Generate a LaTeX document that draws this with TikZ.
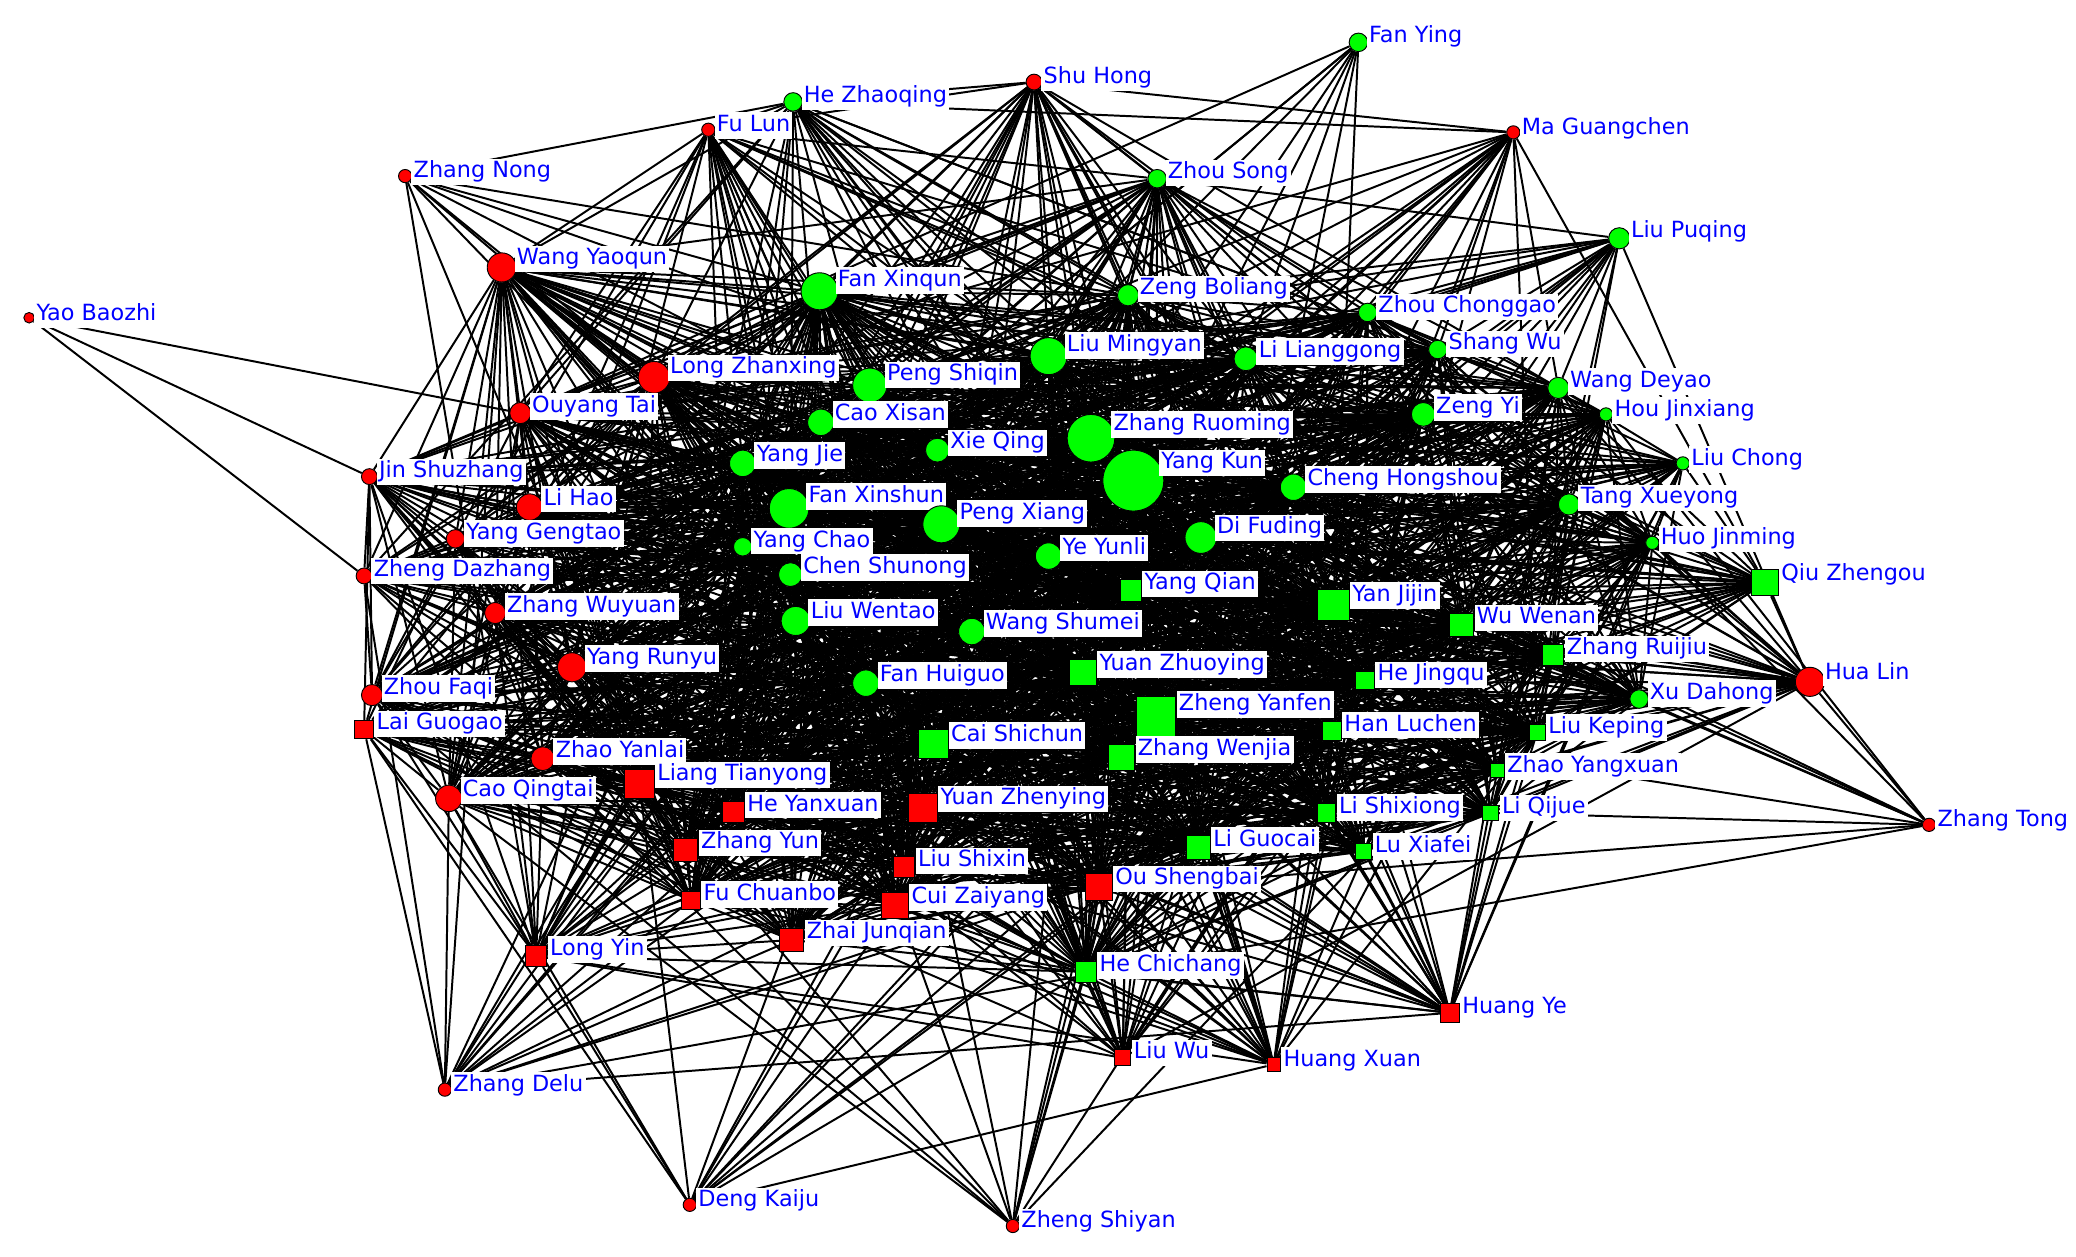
\documentclass[tikz,border=0pt]{standalone}
\usepackage{fontspec}
\newfontfamily\labelfont{DejaVu Sans}
\usetikzlibrary{backgrounds}

\begin{document}
\begin{tikzpicture}[x=0.02cm, y=-0.02cm,
  rc/.style={circle, draw, fill=red, inner sep=0pt, minimum size=#1*0.02cm},
  rs/.style={rectangle, draw, fill=red, inner sep=0pt, minimum size=#1*0.02cm},
  gc/.style={circle, draw, fill=green, inner sep=0pt, minimum size=#1*0.02cm},
  gs/.style={rectangle, draw, fill=green, inner sep=0pt, minimum size=#1*0.02cm},
  lbl/.style={anchor=west, fill=white, text=blue, inner sep=1pt, text height=7.2pt, text depth=2.2pt, font=\labelfont\fontsize{9.6}{11}\selectfont},
  edge/.style={line width=0.85pt}]
\useasboundingbox (0,0) rectangle (1568,949);
% red actors
\node[rc=8, label={[lbl]35:Yao Baozhi}] (N1) at (22,240) {};
\node[rc=10, label={[lbl]35:Zhang Nong}] (N2) at (306,133) {};
\node[rc=10, label={[lbl]35:Fu Lun}] (N3) at (535,98) {};
\node[rc=12, label={[lbl]35:Shu Hong}] (N4) at (781,62) {};
\node[rc=10, label={[lbl]35:Ma Guangchen}] (N5) at (1143,100) {};
\node[rc=22, label={[lbl]35:Wang Yaoqun}] (N6) at (379,202) {};
\node[rc=24, label={[lbl]35:Long Zhanxing}] (N7) at (494,285) {};
\node[rc=16, label={[lbl]35:Ouyang Tai}] (N8) at (393,312) {};
\node[rc=12, label={[lbl]35:Jin Shuzhang}] (N9) at (279,360) {};
\node[rc=20, label={[lbl]35:Li Hao}] (N10) at (400,383) {};
\node[rc=14, label={[lbl]35:Yang Gengtao}] (N11) at (344,407) {};
\node[rc=12, label={[lbl]35:Zheng Dazhang}] (N12) at (275,435) {};
\node[rc=16, label={[lbl]35:Zhang Wuyuan}] (N13) at (374,463) {};
\node[rc=22, label={[lbl]35:Yang Runyu}] (N14) at (432,504) {};
\node[rc=16, label={[lbl]35:Zhou Faqi}] (N15) at (281,525) {};
\node[rc=18, label={[lbl]35:Zhao Yanlai}] (N16) at (410,573) {};
\node[rc=20, label={[lbl]35:Cao Qingtai}] (N17) at (339,603) {};
\node[rc=22, label={[lbl]35:Hua Lin}] (N18) at (1367,515) {};
\node[rc=10, label={[lbl]35:Zhang Tong}] (N19) at (1457,623) {};
\node[rc=10, label={[lbl]35:Zhang Delu}] (N20) at (336,823) {};
\node[rc=10, label={[lbl]35:Deng Kaiju}] (N21) at (521,910) {};
\node[rc=10, label={[lbl]35:Zheng Shiyan}] (N22) at (765,926) {};
\node[rs=14, label={[lbl]30:Lai Guogao}] (N23) at (275,551) {};
\node[rs=22, label={[lbl]30:Liang Tianyong}] (N24) at (483,592) {};
\node[rs=16, label={[lbl]30:He Yanxuan}] (N25) at (554,613) {};
\node[rs=22, label={[lbl]30:Yuan Zhenying}] (N26) at (697,610) {};
\node[rs=18, label={[lbl]30:Zhang Yun}] (N27) at (518,642) {};
\node[rs=16, label={[lbl]30:Liu Shixin}] (N28) at (683,655) {};
\node[rs=20, label={[lbl]30:Ou Shengbai}] (N29) at (830,670) {};
\node[rs=14, label={[lbl]30:Fu Chuanbo}] (N30) at (522,680) {};
\node[rs=20, label={[lbl]30:Cui Zaiyang}] (N31) at (676,684) {};
\node[rs=18, label={[lbl]30:Zhai Junqian}] (N32) at (598,710) {};
\node[rs=16, label={[lbl]30:Long Yin}] (N33) at (405,722) {};
\node[rs=14, label={[lbl]30:Huang Ye}] (N34) at (1095,765) {};
\node[rs=12, label={[lbl]30:Liu Wu}] (N35) at (848,799) {};
\node[rs=10, label={[lbl]30:Huang Xuan}] (N36) at (962,804) {};
% green actors
\node[gc=14, label={[lbl]35:Fan Ying}] (N37) at (1026,32) {};
\node[gc=14, label={[lbl]35:He Zhaoqing}] (N38) at (599,77) {};
\node[gc=14, label={[lbl]35:Zhou Song}] (N39) at (874,135) {};
\node[gc=16, label={[lbl]35:Liu Puqing}] (N40) at (1223,180) {};
\node[gc=28, label={[lbl]35:Fan Xinqun}] (N41) at (619,220) {};
\node[gc=16, label={[lbl]35:Zeng Boliang}] (N42) at (852,223) {};
\node[gc=14, label={[lbl]35:Zhou Chonggao}] (N43) at (1033,236) {};
\node[gc=28, label={[lbl]35:Liu Mingyan}] (N44) at (792,269) {};
\node[gc=18, label={[lbl]35:Li Lianggong}] (N45) at (941,271) {};
\node[gc=14, label={[lbl]35:Shang Wu}] (N46) at (1086,264) {};
\node[gc=26, label={[lbl]35:Peng Shiqin}] (N47) at (657,291) {};
\node[gc=16, label={[lbl]35:Wang Deyao}] (N48) at (1177,293) {};
\node[gc=20, label={[lbl]35:Cao Xisan}] (N49) at (620,319) {};
\node[gc=36, label={[lbl]35:Zhang Ruoming}] (N50) at (824,331) {};
\node[gc=18, label={[lbl]35:Zeng Yi}] (N51) at (1075,313) {};
\node[gc=10, label={[lbl]35:Hou Jinxiang}] (N52) at (1213,313) {};
\node[gc=18, label={[lbl]35:Xie Qing}] (N53) at (708,340) {};
\node[gc=46, label={[lbl]35:Yang Kun}] (N54) at (856,363) {};
\node[gc=20, label={[lbl]35:Yang Jie}] (N55) at (561,350) {};
\node[gc=10, label={[lbl]35:Liu Chong}] (N56) at (1271,350) {};
\node[gc=20, label={[lbl]35:Cheng Hongshou}] (N57) at (977,368) {};
\node[gc=30, label={[lbl]35:Fan Xinshun}] (N58) at (596,384) {};
\node[gc=28, label={[lbl]35:Peng Xiang}] (N59) at (711,396) {};
\node[gc=16, label={[lbl]35:Tang Xueyong}] (N60) at (1185,381) {};
\node[gc=14, label={[lbl]35:Yang Chao}] (N61) at (561,413) {};
\node[gc=20, label={[lbl]35:Ye Yunli}] (N62) at (792,420) {};
\node[gc=24, label={[lbl]35:Di Fuding}] (N63) at (907,406) {};
\node[gc=10, label={[lbl]35:Huo Jinming}] (N64) at (1248,410) {};
\node[gc=18, label={[lbl]35:Chen Shunong}] (N65) at (597,434) {};
\node[gc=22, label={[lbl]35:Liu Wentao}] (N66) at (601,469) {};
\node[gc=20, label={[lbl]35:Wang Shumei}] (N67) at (734,477) {};
\node[gc=20, label={[lbl]35:Fan Huiguo}] (N68) at (654,516) {};
\node[gc=14, label={[lbl]35:Xu Dahong}] (N69) at (1238,528) {};
\node[gs=16, label={[lbl]30:Yang Qian}] (N70) at (854,446) {};
\node[gs=24, label={[lbl]30:Yan Jijin}] (N71) at (1007,457) {};
\node[gs=20, label={[lbl]30:Qiu Zhengou}] (N72) at (1333,440) {};
\node[gs=18, label={[lbl]30:Wu Wenan}] (N73) at (1104,472) {};
\node[gs=16, label={[lbl]30:Zhang Ruijiu}] (N74) at (1173,495) {};
\node[gs=20, label={[lbl]30:Yuan Zhuoying}] (N75) at (818,508) {};
\node[gs=14, label={[lbl]30:He Jingqu}] (N76) at (1031,514) {};
\node[gs=30, label={[lbl]30:Zheng Yanfen}] (N77) at (873,541) {};
\node[gs=22, label={[lbl]30:Cai Shichun}] (N78) at (705,562) {};
\node[gs=14, label={[lbl]30:Han Luchen}] (N79) at (1006,552) {};
\node[gs=12, label={[lbl]30:Liu Keping}] (N80) at (1161,553) {};
\node[gs=20, label={[lbl]30:Zhang Wenjia}] (N81) at (847,572) {};
\node[gs=10, label={[lbl]30:Zhao Yangxuan}] (N82) at (1131,582) {};
\node[gs=14, label={[lbl]30:Li Shixiong}] (N83) at (1002,614) {};
\node[gs=12, label={[lbl]30:Li Qijue}] (N84) at (1126,614) {};
\node[gs=18, label={[lbl]30:Li Guocai}] (N85) at (905,640) {};
\node[gs=12, label={[lbl]30:Lu Xiafei}] (N86) at (1030,643) {};
\node[gs=16, label={[lbl]30:He Chichang}] (N87) at (820,734) {};
% ties: weighted by how tied in each actor is, fewer over long distances
\def\nodewt{{0,0,10,18,20,14,35,40,30,24,35,28,24,30,38,28,32,30,24,10,9,8,10,24,38,32,38,34,32,36,30,36,30,20,18,16,18,12,16,26,14,42,32,30,42,34,30,40,30,36,48,34,24,34,55,36,22,36,44,42,30,30,36,40,24,34,38,36,36,28,32,40,26,34,32,36,30,44,38,30,28,36,26,30,28,34,28,26}}
\begin{pgfonlayer}{background}
\pgfmathsetseed{1234}
\foreach \i in {1,...,86}{
  \pgfmathtruncatemacro{\k}{\i+1}
  \foreach \j in {\k,...,87}{
    \pgfpointdiff{\pgfpointanchor{N\i}{center}}{\pgfpointanchor{N\j}{center}}
    \pgfgetlastxy{\ddx}{\ddy}
    \pgfmathsetmacro{\prob}{\nodewt[\i]*\nodewt[\j]/2000*max(0.1,2.4-veclen(\ddx,\ddy)/250)}
    \pgfmathtruncatemacro{\hit}{rnd<\prob}
    \ifnum\hit=1 \draw[edge] (N\i) -- (N\j); \fi
  }
}
\draw[edge] (N1) -- (N8);
\draw[edge] (N1) -- (N9);
\draw[edge] (N1) -- (N12);
\end{pgfonlayer}
\end{tikzpicture}
\end{document}
